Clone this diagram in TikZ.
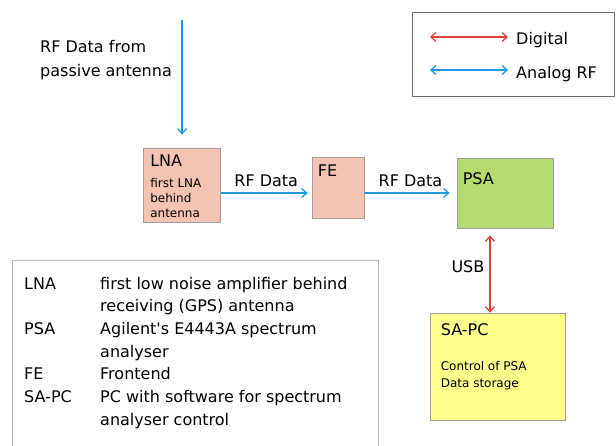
\documentclass[tikz,border=0pt]{standalone}
\usepackage{fontspec}
\setmainfont{DejaVu Sans}
\usetikzlibrary{arrows.meta,positioning,calc}

\definecolor{rfblue}{HTML}{1E9BE2}
\definecolor{digred}{HTML}{E0403A}
\definecolor{lnafill}{HTML}{F5C3B2}
\definecolor{psafill}{HTML}{B5DA70}
\definecolor{pcfill}{HTML}{FFFF8E}

\begin{document}
\begin{tikzpicture}[
  x=1pt, y=-1pt,
  every node/.style={font=\fontsize{16}{24}\selectfont, inner sep=0pt},
  small/.style={font=\fontsize{12}{15}\selectfont},
  block/.style={rectangle, draw=gray!75, line width=0.8pt},
  analog/.style={draw=rfblue, line width=1.3pt, -{Straight Barb[length=5pt,width=9pt]}},
  digital/.style={draw=digred, line width=1.3pt,
    {Straight Barb[length=5pt,width=9pt]}-{Straight Barb[length=5pt,width=9pt]}}
]
\useasboundingbox (0,0) rectangle (616,446);

% Legend
\node[block, draw=gray!85!black, minimum width=202pt, minimum height=84pt] (legend) at (513,54) {};
\coordinate (dl) at (430,37);
\coordinate (dr) at (508,37);
\coordinate (al) at (430,70);
\coordinate (ar) at (508,70);
\draw[digital] (dl) -- (dr);
\draw[analog, {Straight Barb[length=5pt,width=9pt]}-{Straight Barb[length=5pt,width=9pt]}] (al) -- (ar);
\node[anchor=west] (digtext) at (516,40) {Digital};
\node[anchor=west] (antext) at (516,74) {Analog RF};

% Blocks
\node[block, fill=lnafill, minimum width=77pt, minimum height=74pt] (lna) at (182,185) {};
\node[block, fill=lnafill, minimum width=52pt, minimum height=61pt] (fe) at (338,187.5) {};
\node[block, fill=psafill, minimum width=96pt, minimum height=70pt] (psa) at (505,193) {};
\node[block, fill=pcfill, minimum width=135pt, minimum height=107pt] (sapc) at (497.5,366.5) {};

\node[anchor=base west] (lnatitle) at ($(lna.north west)+(7,19)$) {LNA};
\node[small, anchor=north west, align=left] (lnatext) at ($(lna.north west)+(7,31)$)
  {first LNA\\behind\\antenna};
\node[anchor=base west] (fetitle) at ($(fe.north west)+(6,20)$) {FE};
\node[anchor=base west] (psatitle) at ($(psa.north west)+(6,27)$) {PSA};
\node[anchor=base west] (pctitle) at ($(sapc.north west)+(11,23)$) {SA-PC};
\node[font=\fontsize{12}{17}\selectfont, anchor=north west, align=left] (pctext)
  at ($(sapc.north west)+(11,49)$) {Control of PSA\\Data storage};

% Antenna input
\node[anchor=north west, align=left] (anttext) at (40,40) {RF Data from\\passive antenna};
\coordinate (ant) at (182,20);
\draw[analog, shorten >=13pt] (ant) -- (lna.north);

% Signal path
\draw[analog, shorten >=4pt] (lna.east |- psa.west) -- node[above=6pt] (rf1) {RF Data} (fe.west |- psa.west);
\draw[analog, shorten >=7pt] (fe.east |- psa.west) -- node[above=6pt] (rf2) {RF Data} (psa.west);
\draw[digital, shorten >=7pt] ([xshift=-7.5pt]sapc.north) -- node[pos=0.55, left=5pt] (usb) {USB}
  ([xshift=-7.5pt]sapc.north |- psa.south);

% Abbreviations
\draw[gray!55, line width=0.8pt] (12,446) |- (378,260) -- (378,446);
\node[anchor=north west] (abbr) at (24,273) {%
  \renewcommand{\arraystretch}{1}%
  \fontsize{16}{22.7}\selectfont
  \begin{tabular}{@{}p{76pt}@{}l@{}}
    LNA   & first low noise amplifier behind\\
          & receiving (GPS) antenna\\
    PSA   & Agilent\textquotesingle s E4443A spectrum\\
          & analyser\\
    FE    & Frontend\\
    SA-PC & PC with software for spectrum\\
          & analyser control
  \end{tabular}};

\end{tikzpicture}
\end{document}
